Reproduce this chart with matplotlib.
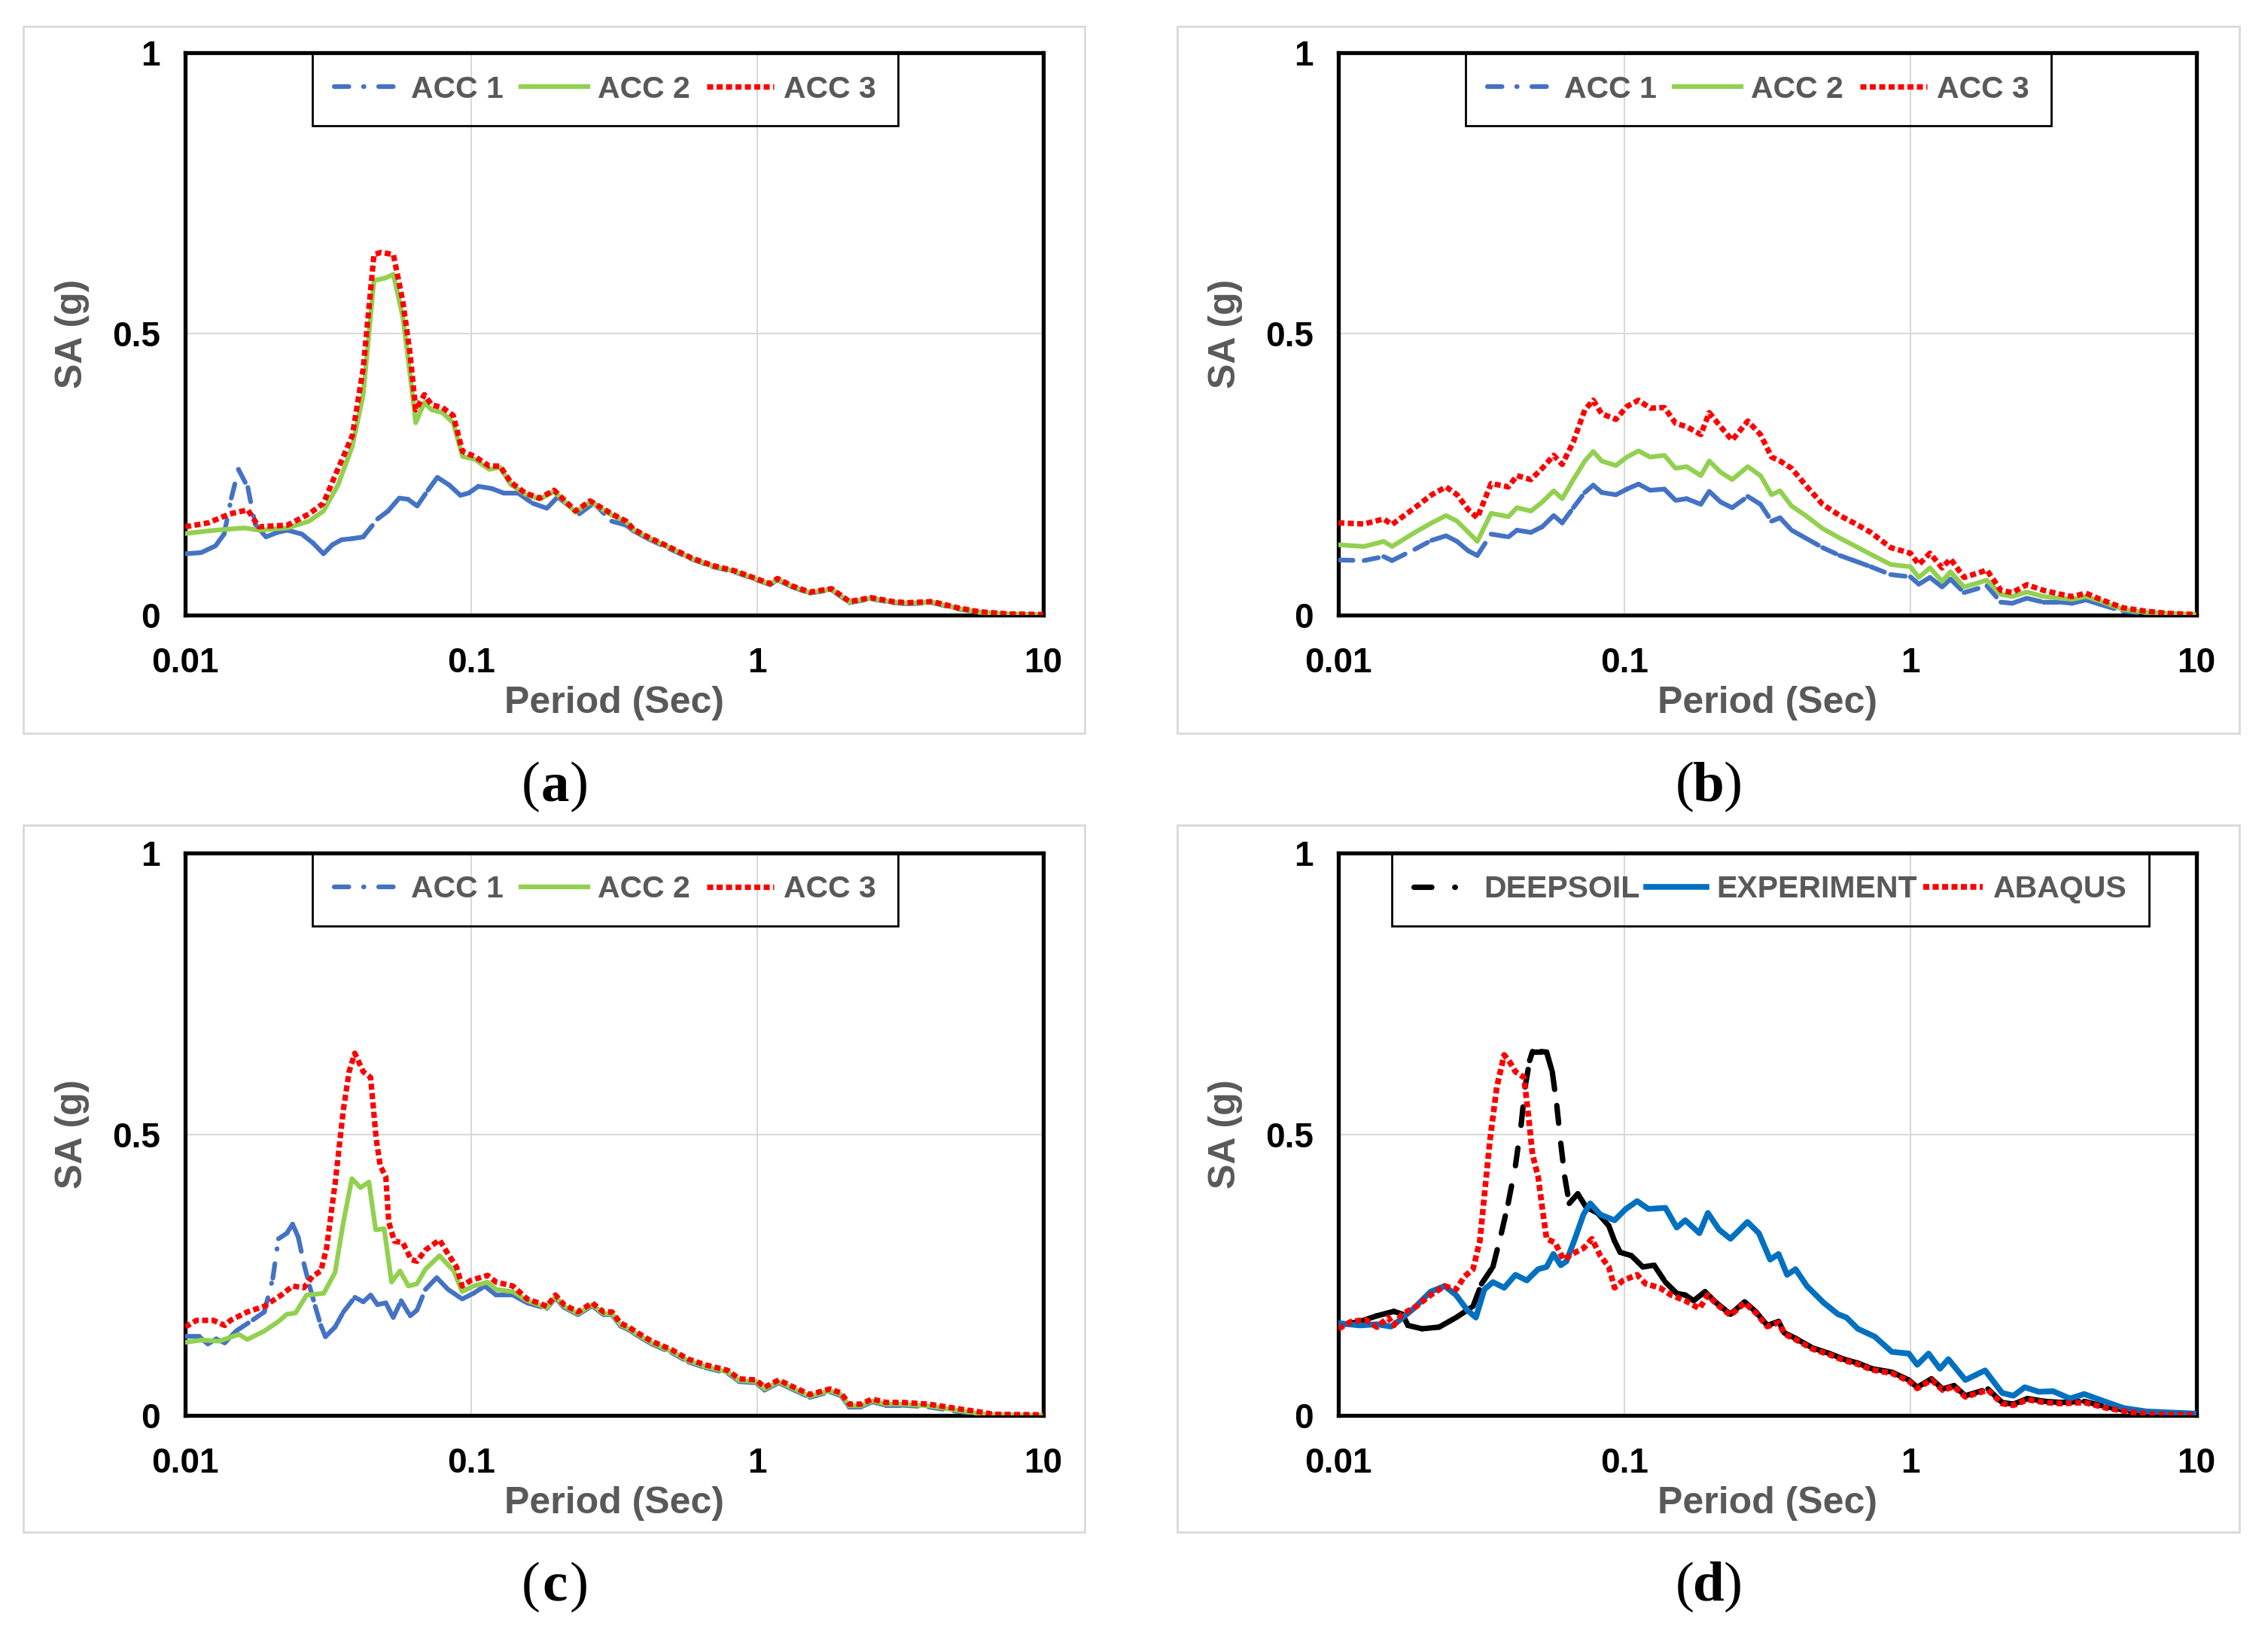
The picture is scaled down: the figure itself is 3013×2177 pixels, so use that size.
import numpy as np
import matplotlib
matplotlib.use("Agg")
import matplotlib.pyplot as plt
from matplotlib.collections import LineCollection
from matplotlib.lines import Line2D
from matplotlib.patches import Rectangle
from matplotlib.ticker import FixedLocator, NullLocator
from matplotlib.transforms import offset_copy

plt.rcParams['font.family'] = ['Liberation Sans', 'DejaVu Sans']
plt.rcParams['lines.scale_dashes'] = False

# ---------------- data (period in sec, SA in g) ----------------
x_ticks = [0.01, 0.1, 1, 10]
x_tick_labels = ['0.01', '0.1', '1', '10']
y_ticks = [0, 0.5, 1]
y_tick_labels = ['0', '0.5', '1']

# panel (a)
a_acc1_T = [0.0100, 0.01136, 0.01276, 0.01368, 0.01450, 0.01536, 0.01656, 0.01755, 0.01915, 0.02100,
            0.02279, 0.02559, 0.02800, 0.03045, 0.03270, 0.03522, 0.03840, 0.04191, 0.04706, 0.05120,
            0.05600, 0.06010, 0.06473, 0.07060, 0.07614, 0.08390, 0.09167, 0.09800, 0.1060, 0.1180,
            0.1298, 0.1458, 0.1637, 0.1839, 0.2006, 0.2387, 0.2681, 0.3099, 0.3480, 0.3688,
            0.4141, 0.4929, 0.5866, 0.6981, 0.8306, 0.9886, 1.110, 1.177, 1.321, 1.527,
            1.818, 2.101, 2.500, 2.976, 3.342, 4.094, 5.016, 5.970, 7.528, 10.0]
a_acc1_SA = [0.109, 0.111, 0.123, 0.144, 0.208, 0.259, 0.227, 0.162, 0.139, 0.147,
             0.151, 0.144, 0.128, 0.109, 0.125, 0.134, 0.136, 0.139, 0.171, 0.185,
             0.208, 0.206, 0.194, 0.222, 0.245, 0.231, 0.213, 0.217, 0.229, 0.225,
             0.217, 0.217, 0.199, 0.190, 0.210, 0.180, 0.199, 0.167, 0.160, 0.150,
             0.136, 0.118, 0.100, 0.086, 0.077, 0.063, 0.054, 0.063, 0.050, 0.039,
             0.045, 0.022, 0.029, 0.022, 0.020, 0.022, 0.011, 0.005, 0.001, 0.000]

a_acc2_T = [0.0100, 0.01276, 0.01609, 0.01807, 0.02279, 0.02712, 0.03045, 0.03420, 0.03840, 0.04191,
            0.04571, 0.04987, 0.05345, 0.05766, 0.06108, 0.06398, 0.06861, 0.07269, 0.07931, 0.08650,
            0.09328, 0.1029, 0.1156, 0.1261, 0.1376, 0.1545, 0.1735, 0.1948, 0.2318, 0.2604,
            0.3099, 0.3480, 0.3688, 0.4141, 0.4929, 0.5866, 0.6981, 0.8306, 0.9886, 1.110,
            1.177, 1.321, 1.527, 1.818, 2.101, 2.500, 2.976, 3.342, 4.094, 5.016,
            5.970, 7.528, 10.0]
a_acc2_SA = [0.145, 0.151, 0.155, 0.151, 0.155, 0.167, 0.185, 0.231, 0.300, 0.392,
             0.595, 0.599, 0.606, 0.530, 0.429, 0.342, 0.378, 0.365, 0.360, 0.342,
             0.282, 0.277, 0.259, 0.263, 0.232, 0.215, 0.206, 0.220, 0.183, 0.201,
             0.178, 0.166, 0.152, 0.138, 0.120, 0.101, 0.087, 0.078, 0.064, 0.055,
             0.064, 0.051, 0.040, 0.046, 0.023, 0.030, 0.023, 0.021, 0.023, 0.012,
             0.005, 0.002, 0.001]

a_acc3_T = [0.0100, 0.01204, 0.01433, 0.01656, 0.01807, 0.02279, 0.02712, 0.03045, 0.03322, 0.03840,
            0.04191, 0.04571, 0.04844, 0.05345, 0.05766, 0.06108, 0.06398, 0.06861, 0.07269, 0.07931,
            0.08650, 0.09328, 0.1029, 0.1156, 0.1261, 0.1376, 0.1545, 0.1735, 0.1948, 0.2318,
            0.2604, 0.3099, 0.3480, 0.3688, 0.4141, 0.4929, 0.5866, 0.6981, 0.8306, 0.9886,
            1.110, 1.177, 1.321, 1.527, 1.818, 2.101, 2.500, 2.976, 3.342, 4.094,
            5.016, 5.970, 7.528, 10.0]
a_acc3_SA = [0.157, 0.164, 0.180, 0.187, 0.157, 0.160, 0.180, 0.199, 0.245, 0.319,
             0.438, 0.641, 0.645, 0.641, 0.558, 0.466, 0.365, 0.392, 0.374, 0.369,
             0.355, 0.291, 0.282, 0.265, 0.265, 0.236, 0.217, 0.208, 0.222, 0.185,
             0.203, 0.180, 0.167, 0.153, 0.139, 0.121, 0.102, 0.088, 0.079, 0.065,
             0.056, 0.065, 0.052, 0.041, 0.047, 0.024, 0.031, 0.024, 0.022, 0.024,
             0.013, 0.006, 0.002, 0.001]

# panel (b): all three read at the same periods
b_T = [0.0100, 0.0123, 0.0144, 0.0154, 0.0185, 0.0212, 0.0238, 0.0260, 0.0285, 0.0306,
       0.0342, 0.0393, 0.0421, 0.0471, 0.0516, 0.0566, 0.0606, 0.0663, 0.0727, 0.0778,
       0.0833, 0.0934, 0.102, 0.112, 0.123, 0.138, 0.151, 0.165, 0.185, 0.198,
       0.217, 0.238, 0.270, 0.299, 0.327, 0.350, 0.384, 0.430, 0.493, 0.566,
       0.634, 0.727, 0.853, 1.00, 1.07, 1.17, 1.29, 1.38, 1.54, 1.85,
       2.07, 2.27, 2.55, 2.92, 3.35, 3.67, 4.11, 4.61, 5.53, 6.63,
       7.96, 10.0]
b_acc1_SA = [0.098, 0.097, 0.104, 0.097, 0.117, 0.133, 0.141, 0.131, 0.114, 0.106,
             0.144, 0.139, 0.151, 0.147, 0.157, 0.177, 0.164, 0.191, 0.218, 0.231,
             0.218, 0.214, 0.224, 0.233, 0.222, 0.224, 0.204, 0.207, 0.197, 0.220,
             0.201, 0.191, 0.211, 0.197, 0.167, 0.173, 0.151, 0.137, 0.120, 0.106,
             0.097, 0.086, 0.072, 0.068, 0.055, 0.067, 0.050, 0.064, 0.040, 0.052,
             0.023, 0.021, 0.030, 0.023, 0.023, 0.021, 0.027, 0.019, 0.007, 0.003,
             0.002, 0.001]
b_acc2_SA = [0.125, 0.122, 0.131, 0.122, 0.147, 0.164, 0.177, 0.167, 0.147, 0.131,
             0.181, 0.175, 0.191, 0.185, 0.201, 0.221, 0.207, 0.241, 0.274, 0.291,
             0.274, 0.266, 0.281, 0.292, 0.281, 0.284, 0.261, 0.264, 0.248, 0.274,
             0.254, 0.241, 0.264, 0.248, 0.214, 0.221, 0.194, 0.177, 0.154, 0.137,
             0.124, 0.108, 0.090, 0.086, 0.067, 0.084, 0.060, 0.077, 0.050, 0.062,
             0.037, 0.033, 0.041, 0.033, 0.030, 0.028, 0.033, 0.025, 0.010, 0.005,
             0.003, 0.001]
b_acc3_SA = [0.164, 0.162, 0.171, 0.161, 0.191, 0.214, 0.228, 0.214, 0.187, 0.173,
             0.234, 0.228, 0.248, 0.241, 0.261, 0.284, 0.268, 0.308, 0.365, 0.382,
             0.358, 0.348, 0.371, 0.382, 0.368, 0.369, 0.341, 0.335, 0.321, 0.360,
             0.335, 0.311, 0.345, 0.321, 0.281, 0.274, 0.261, 0.231, 0.197, 0.177,
             0.164, 0.147, 0.120, 0.110, 0.090, 0.110, 0.084, 0.100, 0.067, 0.080,
             0.044, 0.040, 0.054, 0.044, 0.037, 0.033, 0.039, 0.028, 0.013, 0.007,
             0.003, 0.001]

# panel (c)
c_acc1_T = [0.0100, 0.01120, 0.01200, 0.01284, 0.01375, 0.01506, 0.01727, 0.01891, 0.02025, 0.02119,
            0.02268, 0.02374, 0.02485, 0.02600, 0.02722, 0.02848, 0.02981, 0.03092, 0.03341, 0.03575,
            0.03917, 0.04194, 0.04449, 0.04698, 0.05029, 0.05338, 0.05688, 0.06117, 0.06460, 0.06917,
            0.07574, 0.08299, 0.09297, 0.1018, 0.1115, 0.1222, 0.1400, 0.1569, 0.1839, 0.1970,
            0.2109, 0.2362, 0.2647, 0.2901, 0.3105, 0.3324, 0.3558, 0.3811, 0.4270, 0.5007,
            0.5741, 0.6579, 0.7891, 0.8646, 0.9908, 1.061, 1.189, 1.332, 1.527, 1.791,
            1.961, 2.099, 2.300, 2.520, 2.822, 3.236, 3.970, 4.873, 5.846, 6.702, 10.0]
c_acc1_SA = [0.140, 0.140, 0.127, 0.136, 0.129, 0.150, 0.170, 0.184, 0.244, 0.314,
             0.324, 0.340, 0.317, 0.270, 0.230, 0.194, 0.160, 0.140, 0.157, 0.184,
             0.210, 0.202, 0.214, 0.197, 0.200, 0.174, 0.204, 0.177, 0.187, 0.224,
             0.245, 0.224, 0.207, 0.217, 0.230, 0.214, 0.214, 0.200, 0.190, 0.209,
             0.192, 0.179, 0.195, 0.179, 0.179, 0.159, 0.152, 0.142, 0.127, 0.112,
             0.095, 0.085, 0.075, 0.060, 0.058, 0.045, 0.058, 0.046, 0.032, 0.042,
             0.035, 0.015, 0.015, 0.024, 0.018, 0.018, 0.015, 0.008, 0.003, 0.001, 0.000]

c_acc2_T = [0.0100, 0.01146, 0.01314, 0.01541, 0.01650, 0.01891, 0.02119, 0.02268, 0.02429, 0.02660,
            0.03050, 0.03341, 0.03575, 0.03828, 0.04099, 0.04389, 0.04634, 0.04963, 0.05265, 0.05636,
            0.06034, 0.06460, 0.06917, 0.07748, 0.08685, 0.09297, 0.1018, 0.1141, 0.1222, 0.1400,
            0.1569, 0.1718, 0.1839, 0.1970, 0.2109, 0.2362, 0.2647, 0.2901, 0.3105, 0.3324,
            0.3558, 0.3811, 0.4270, 0.5007, 0.5741, 0.6579, 0.7891, 0.8646, 0.9908, 1.061,
            1.189, 1.332, 1.527, 1.791, 1.961, 2.099, 2.300, 2.520, 2.822, 3.236,
            3.970, 4.873, 5.846, 6.702, 10.0]
c_acc2_SA = [0.130, 0.134, 0.132, 0.144, 0.135, 0.150, 0.167, 0.180, 0.182, 0.214,
             0.217, 0.254, 0.344, 0.421, 0.405, 0.415, 0.330, 0.332, 0.237, 0.257,
             0.230, 0.234, 0.260, 0.284, 0.257, 0.220, 0.230, 0.237, 0.224, 0.220,
             0.204, 0.197, 0.191, 0.211, 0.194, 0.181, 0.197, 0.181, 0.181, 0.161,
             0.154, 0.144, 0.129, 0.114, 0.097, 0.087, 0.077, 0.062, 0.060, 0.047,
             0.060, 0.048, 0.034, 0.044, 0.037, 0.017, 0.017, 0.026, 0.020, 0.020,
             0.017, 0.010, 0.004, 0.001, 0.000]

c_acc3_T = [0.0100, 0.01095, 0.01255, 0.01375, 0.01439, 0.01650, 0.01891, 0.02168, 0.02374, 0.02600,
            0.02785, 0.02981, 0.03120, 0.03341, 0.03575, 0.03742, 0.03917, 0.04194, 0.04449, 0.04656,
            0.04806, 0.05029, 0.05147, 0.05386, 0.05766, 0.06173, 0.06460, 0.06917, 0.07748, 0.08299,
            0.08884, 0.09297, 0.0995, 0.1141, 0.1222, 0.1400, 0.1569, 0.1718, 0.1839, 0.1970,
            0.2109, 0.2362, 0.2647, 0.2901, 0.3105, 0.3324, 0.3558, 0.3811, 0.4270, 0.5007,
            0.5741, 0.6579, 0.7891, 0.8646, 0.9908, 1.061, 1.189, 1.332, 1.527, 1.791,
            1.961, 2.099, 2.300, 2.520, 2.822, 3.236, 3.970, 4.873, 5.846, 6.702, 10.0]
c_acc3_SA = [0.157, 0.169, 0.169, 0.160, 0.169, 0.184, 0.194, 0.214, 0.230, 0.227,
             0.247, 0.257, 0.297, 0.411, 0.544, 0.611, 0.644, 0.611, 0.601, 0.491,
             0.444, 0.424, 0.344, 0.310, 0.307, 0.277, 0.274, 0.294, 0.312, 0.287,
             0.264, 0.230, 0.240, 0.249, 0.237, 0.230, 0.207, 0.200, 0.194, 0.214,
             0.197, 0.184, 0.200, 0.184, 0.184, 0.164, 0.157, 0.147, 0.132, 0.117,
             0.100, 0.090, 0.080, 0.065, 0.063, 0.050, 0.063, 0.051, 0.037, 0.047,
             0.040, 0.020, 0.020, 0.029, 0.023, 0.023, 0.020, 0.013, 0.007, 0.002, 0.001]

# panel (d)
d_deep_T = [0.0100, 0.01189, 0.01363, 0.01563, 0.01673, 0.01751, 0.01963, 0.02250, 0.02579, 0.02957,
            0.03166, 0.03469, 0.03714, 0.03923, 0.04160, 0.04355, 0.04497, 0.04664, 0.04772, 0.05111,
            0.05346, 0.05595, 0.05803, 0.05991, 0.06186, 0.06415, 0.06869, 0.07355, 0.08053, 0.08822,
            0.09235, 0.09665, 0.1058, 0.1160, 0.1270, 0.1391, 0.1524, 0.1632, 0.1747, 0.1913,
            0.2097, 0.2349, 0.2632, 0.2884, 0.3159, 0.3459, 0.3621, 0.3966, 0.4547, 0.5213,
            0.5841, 0.6547, 0.7336, 0.8603, 0.9865, 1.056, 1.184, 1.297, 1.420, 1.556,
            1.866, 2.091, 2.291, 2.567, 2.944, 3.375, 4.050, 4.859, 5.831, 6.995, 10.0]
d_deep_SA = [0.160, 0.167, 0.177, 0.185, 0.180, 0.160, 0.154, 0.157, 0.174, 0.194,
             0.234, 0.264, 0.324, 0.377, 0.444, 0.517, 0.584, 0.631, 0.647, 0.647,
             0.646, 0.611, 0.551, 0.484, 0.424, 0.377, 0.394, 0.370, 0.360, 0.337,
             0.310, 0.290, 0.284, 0.264, 0.267, 0.237, 0.217, 0.214, 0.204, 0.220,
             0.200, 0.180, 0.202, 0.184, 0.160, 0.167, 0.147, 0.137, 0.120, 0.110,
             0.100, 0.093, 0.083, 0.077, 0.063, 0.050, 0.065, 0.047, 0.053, 0.035,
             0.047, 0.023, 0.020, 0.030, 0.025, 0.023, 0.025, 0.015, 0.008, 0.003, 0.001]

d_exp_T = [0.0100, 0.01189, 0.01363, 0.01528, 0.01635, 0.01833, 0.02102, 0.02354, 0.02579, 0.02825,
           0.03025, 0.03239, 0.03469, 0.03799, 0.04160, 0.04559, 0.04995, 0.05346, 0.05646, 0.05991,
           0.06271, 0.06714, 0.07189, 0.07593, 0.08238, 0.09235, 0.1011, 0.1108, 0.1214, 0.1391,
           0.1524, 0.1632, 0.1829, 0.1958, 0.2145, 0.2349, 0.2693, 0.2951, 0.3232, 0.3459,
           0.3705, 0.3966, 0.4345, 0.4981, 0.5580, 0.5976, 0.6547, 0.7506, 0.8603, 0.9865,
           1.056, 1.157, 1.268, 1.357, 1.556, 1.824, 2.091, 2.291, 2.509, 2.813,
           3.151, 3.613, 4.050, 4.642, 5.569, 6.684, 10.0]
d_exp_SA = [0.164, 0.160, 0.162, 0.158, 0.169, 0.190, 0.220, 0.230, 0.214, 0.187,
            0.174, 0.224, 0.237, 0.227, 0.250, 0.240, 0.260, 0.264, 0.287, 0.267,
            0.274, 0.314, 0.357, 0.377, 0.357, 0.347, 0.367, 0.381, 0.367, 0.369,
            0.334, 0.347, 0.324, 0.360, 0.330, 0.314, 0.344, 0.324, 0.277, 0.287,
            0.250, 0.260, 0.230, 0.200, 0.180, 0.174, 0.154, 0.140, 0.113, 0.110,
            0.090, 0.110, 0.083, 0.100, 0.063, 0.080, 0.040, 0.035, 0.050, 0.042,
            0.043, 0.030, 0.038, 0.027, 0.013, 0.007, 0.003]

d_abq_T = [0.0100, 0.01110, 0.01245, 0.01363, 0.01493, 0.01563, 0.01673, 0.01875, 0.02102, 0.02354,
           0.02579, 0.02761, 0.02957, 0.03123, 0.03239, 0.03391, 0.03580, 0.03799, 0.03977, 0.04160,
           0.04456, 0.04622, 0.04772, 0.04995, 0.05158, 0.05346, 0.05724, 0.06130, 0.06562, 0.07189,
           0.07697, 0.08238, 0.08822, 0.09235, 0.09888, 0.1108, 0.1186, 0.1329, 0.1456, 0.1632,
           0.1829, 0.1958, 0.2097, 0.2349, 0.2632, 0.2884, 0.3159, 0.3459, 0.3621, 0.3966,
           0.4547, 0.5213, 0.5841, 0.6547, 0.7336, 0.8603, 0.9865, 1.056, 1.184, 1.297,
           1.420, 1.556, 1.866, 2.091, 2.291, 2.567, 2.944, 3.375, 4.050, 4.859,
           5.831, 6.995, 10.0]
d_abq_SA = [0.154, 0.167, 0.170, 0.157, 0.174, 0.160, 0.180, 0.194, 0.214, 0.230,
            0.224, 0.247, 0.260, 0.310, 0.391, 0.491, 0.584, 0.641, 0.628, 0.611,
            0.601, 0.531, 0.464, 0.424, 0.370, 0.314, 0.307, 0.277, 0.287, 0.297,
            0.314, 0.284, 0.264, 0.227, 0.240, 0.250, 0.234, 0.227, 0.214, 0.204,
            0.190, 0.214, 0.198, 0.178, 0.200, 0.182, 0.158, 0.165, 0.145, 0.135,
            0.118, 0.108, 0.098, 0.091, 0.081, 0.075, 0.061, 0.048, 0.063, 0.045,
            0.051, 0.033, 0.045, 0.021, 0.018, 0.028, 0.023, 0.021, 0.023, 0.013,
            0.006, 0.002, 0.001]

acc_labels = ['ACC 1', 'ACC 2', 'ACC 3']
d_labels = ['DEEPSOIL', 'EXPERIMENT', 'ABAQUS']
panel_letters = ['a', 'b', 'c', 'd']

# ---------------- styles ----------------
W, H = 3013, 2177
GRAY_TXT = '#595959'
GRID = '#D9D9D9'
C_ACC1 = '#4472C4'
C_ACC2 = '#92D050'
C_RED = '#FF0000'
C_EXP = '#0070C0'
DASHDOT_BLUE = (14, 14, 0.5, 14)
DASHDOT_BLACK = (17, 22, 0.5, 22)
DOTTED = (5.8, 3.2)

fig = plt.figure(figsize=(W / 100, H / 100), dpi=100)
fig.patch.set_facecolor('white')


def px_axes(left, top, w=1140, h=747):
    return fig.add_axes([left / W, 1 - (top + h) / H, w / W, h / H])


def frame_box(x0, y0, x1, y1):
    fig.add_artist(Rectangle((x0 / W, 1 - y1 / H), (x1 - x0) / W, (y1 - y0) / H,
                             transform=fig.transFigure, fill=False,
                             edgecolor=GRID, linewidth=2))


def setup_axes(ax):
    ax.set_xscale('log')
    ax.set_xlim(0.01, 10)
    ax.set_ylim(0, 1)
    ax.xaxis.set_major_locator(FixedLocator(x_ticks))
    ax.xaxis.set_minor_locator(NullLocator())
    ax.set_xticklabels(x_tick_labels)
    ax.set_yticks(y_ticks)
    ax.set_yticklabels(y_tick_labels)
    ax.grid(True, color=GRID, linewidth=1.5)
    ax.set_axisbelow(True)
    ax.tick_params(axis='both', length=0, labelsize=33, colors='black')
    ax.tick_params(axis='x', pad=30)
    ax.tick_params(axis='y', pad=24)
    for lab in ax.get_xticklabels() + ax.get_yticklabels():
        lab.set_fontweight('bold')
    for s in ax.spines.values():
        s.set_linewidth(3.8)
        s.set_color('black')
    ax.text(-0.132, 0.5, 'SA (g)', rotation=90, transform=ax.transAxes, ha='center',
            va='center', fontsize=36, fontweight='bold', color=GRAY_TXT)
    ax.text(0.5, -0.157, 'Period (Sec)', transform=ax.transAxes, ha='center',
            va='center', fontsize=36, fontweight='bold', color=GRAY_TXT)


def excel_dashed(ax, x, y, color, lw, dashes):
    # Excel restarts the dash pattern at every data point -> one segment per pair
    pts = np.column_stack([x, y])
    segs = np.stack([pts[:-1], pts[1:]], axis=1)
    lc = LineCollection(segs, colors=color, linewidths=lw, linestyles=[(0, dashes)],
                        capstyle='round', joinstyle='round', zorder=3)
    ax.add_collection(lc, autolim=False)


def add_legend(ax, handles, labels, x0, cspace, hlen):
    leg = ax.legend(handles, labels, loc='upper left', bbox_to_anchor=(x0, 1.0),
                    ncol=3, frameon=True, fancybox=False, edgecolor='black',
                    facecolor='none', framealpha=1, borderaxespad=0,
                    prop={'size': 29.5, 'weight': 'bold'}, handlelength=hlen,
                    handletextpad=0.32, columnspacing=cspace, borderpad=0.72)
    leg.get_frame().set_linewidth(2)
    for t in leg.get_texts():
        t.set_color(GRAY_TXT)


def acc_panel(ax, T1, S1, T2, S2, T3, S3):
    setup_axes(ax)
    excel_dashed(ax, T1, S1, C_ACC1, 4.5, DASHDOT_BLUE)
    ax.plot(T2, S2, color=C_ACC2, lw=4.5, solid_joinstyle='round', zorder=3)
    ax.plot(T3, S3, color=C_RED, lw=5.2, linestyle=(0, DOTTED), dash_capstyle='butt', zorder=3)
    handles = [Line2D([], [], color=C_ACC1, lw=4.5, linestyle=(0, DASHDOT_BLUE), dash_capstyle='round'),
               Line2D([], [], color=C_ACC2, lw=4.5),
               Line2D([], [], color=C_RED, lw=5.2, linestyle=(0, DOTTED))]
    add_legend(ax, handles, acc_labels, 0.148, 0.55, 2.17)


# outer gray frames
frame_box(31, 35, 1441, 974)
frame_box(1564, 35, 2975, 974)
frame_box(31, 1096, 1441, 2035)
frame_box(1564, 1096, 2975, 2035)

ax_a = px_axes(246, 70)
ax_b = px_axes(1778, 70)
ax_c = px_axes(246, 1133)
ax_d = px_axes(1778, 1133)

acc_panel(ax_a, a_acc1_T, a_acc1_SA, a_acc2_T, a_acc2_SA, a_acc3_T, a_acc3_SA)
acc_panel(ax_b, b_T, b_acc1_SA, b_T, b_acc2_SA, b_T, b_acc3_SA)
acc_panel(ax_c, c_acc1_T, c_acc1_SA, c_acc2_T, c_acc2_SA, c_acc3_T, c_acc3_SA)

setup_axes(ax_d)
excel_dashed(ax_d, d_deep_T, d_deep_SA, 'black', 5.2, DASHDOT_BLACK)
ax_d.plot(d_exp_T, d_exp_SA, color=C_EXP, lw=5.5, solid_joinstyle='round', zorder=3)
ax_d.plot(d_abq_T, d_abq_SA, color=C_RED, lw=5.5, linestyle=(0, DOTTED), dash_capstyle='butt', zorder=3)
d_handles = [Line2D([], [], color='black', lw=5.2, linestyle=(0, DASHDOT_BLACK), dash_capstyle='round'),
             Line2D([], [], color=C_EXP, lw=5.5),
             Line2D([], [], color=C_RED, lw=5.5, linestyle=(0, DOTTED))]
add_legend(ax_d, d_handles, d_labels, 0.062, 0.2, 1.95)

# panel letters "(a)" etc: bold letter, regular parentheses, serif
letter_pos = [(737, 1045), (2270, 1045), (737, 2108), (2270, 2108)]
half = 14
for letter, (cx, cy) in zip(panel_letters, letter_pos):
    fx, fy = cx / W, 1 - cy / H
    fig.text(fx, fy, letter, ha='center', va='center', fontsize=54, fontweight='bold',
             family='Liberation Serif')
    fig.text(fx, fy, '(', ha='right', va='center', fontsize=54, family='Liberation Serif',
             transform=offset_copy(fig.transFigure, fig=fig, x=-half, y=0, units='points'))
    fig.text(fx, fy, ')', ha='left', va='center', fontsize=54, family='Liberation Serif',
             transform=offset_copy(fig.transFigure, fig=fig, x=half, y=0, units='points'))

fig.savefig('out.png', dpi=100, facecolor='white')
